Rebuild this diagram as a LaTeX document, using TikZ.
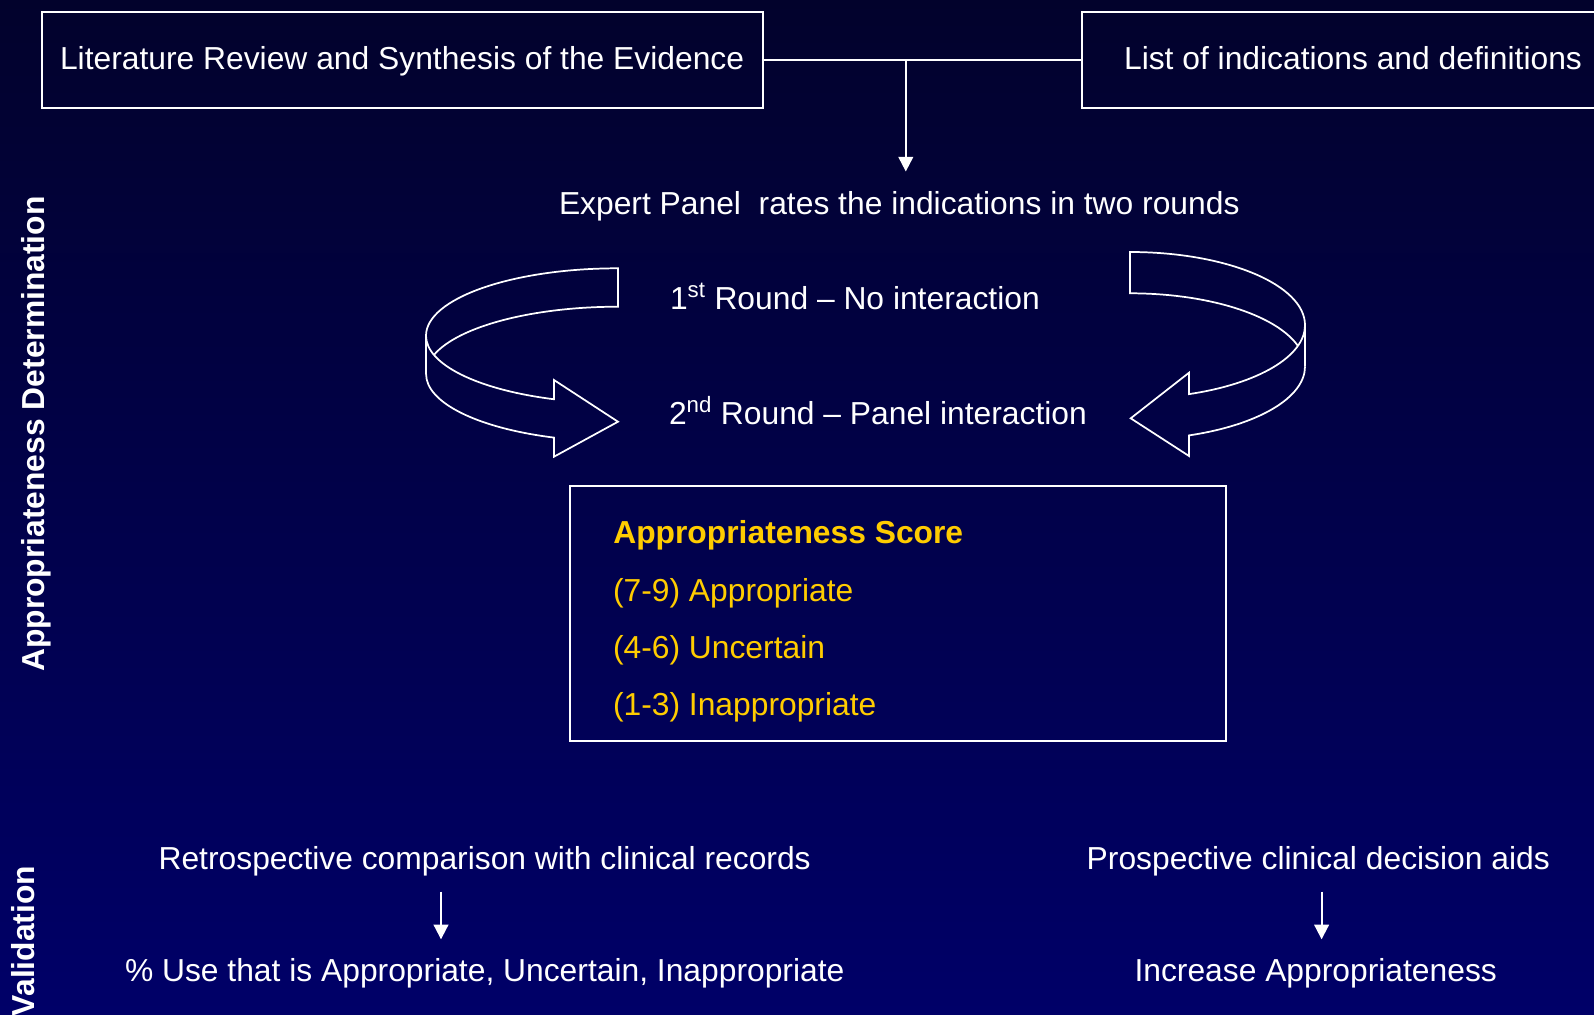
\documentclass[tikz,border=0pt]{standalone}
\usepackage{fontspec}
\setmainfont{Liberation Sans}
\usetikzlibrary{arrows.meta}
\definecolor{bgtop}{RGB}{2,2,44}
\definecolor{bgbot}{RGB}{0,0,104}
\definecolor{gold}{RGB}{255,204,0}
\begin{document}
\begin{tikzpicture}[x=0.75pt,y=-0.75pt,
  every node/.style={inner sep=0pt, outer sep=0pt, text=white,
    font=\fontsize{23.85}{28}\selectfont},
  txt/.style={anchor=base west},
  boxnode/.style={draw=white, line width=1.5pt, text height=17.1pt, text depth=3pt},
  conn/.style={draw=white, line width=1.5pt},
  arr/.style={conn, -{Triangle[length=11pt,width=11pt]}},
  ribbon/.style={draw=white, line width=1.3pt, line join=miter},
  score/.style={anchor=base west, text=gold},
  side/.style={rotate=90, anchor=base, font=\bfseries\fontsize{23.85}{28}\selectfont}
]
\clip (0,0) rectangle (1594,1014);
\shade[top color=bgtop, bottom color=bgbot] (0,0) rectangle (1594,1014);

% top boxes
\node[boxnode, minimum width=540.6pt, minimum height=71.7pt] (lit) at (402.1,60)
  {Literature Review and Synthesis of the Evidence};
\node[boxnode, minimum width=407pt, minimum height=71.7pt] (list) at (1353,60)
  {List of indications and definitions};
\coordinate (split) at (905.8,60);
\coordinate (exptip) at (905.8,171.5);
\draw[conn] (lit.east) -- (list.west);
\draw[arr] (split) -- (exptip);

\node[txt] (expert) at (559,214) {Expert Panel\ \ rates the indications in two rounds};

% rounds
\node[txt] (round1) at (670,309.3) {1\textsuperscript{st} Round – No interaction};
\node[txt] (round2) at (669,424.3) {2\textsuperscript{nd} Round – Panel interaction};

% left curved arrow
\draw[ribbon] (426,374.1) -- (426,335.7)
  arc[start angle=180, end angle=270, x radius=192, y radius=67.4]
  -- (618,306.7)
  arc[start angle=270, end angle=196.55, x radius=192, y radius=67.4];
\draw[ribbon] (426,335.7)
  arc[start angle=180, end angle=109.5, x radius=192, y radius=67.4]
  -- (554,380) -- (618,421.7) -- (554,456.7) -- (554,437.6)
  arc[start angle=109.5, end angle=180, x radius=192, y radius=67.4];

% right curved arrow
\draw[ribbon] (1305,366.5) -- (1305,325.2)
  arc[start angle=0, end angle=-90, x radius=175, y radius=73.2]
  -- (1130,293.3)
  arc[start angle=-90, end angle=-16.4, x radius=175, y radius=73.2];
\draw[ribbon] (1305,325.2)
  arc[start angle=0, end angle=70.3, x radius=175, y radius=73.2]
  -- (1189,372.7) -- (1130.7,418.3) -- (1189,456) -- (1189,435.4)
  arc[start angle=70.3, end angle=0, x radius=175, y radius=73.2];

% score box
\node[draw=white, line width=1.5pt, anchor=north west, minimum width=491.8pt,
  minimum height=191.3pt] (scorebox) at (570.3,486) {};
\node[score, font=\bfseries\fontsize{23.85}{28}\selectfont] (scoretitle) at (613.3,543.3) {Appropriateness Score};
\node[score] (s79) at (613,601.5) {(7-9) Appropriate};
\node[score] (s46) at (613,658.3) {(4-6) Uncertain};
\node[score] (s13) at (613,715.5) {(1-3) Inappropriate};

% side labels
\node[side] (appdet) at (44,434) {Appropriateness Determination};
\node[side] (valid) at (34,941) {Validation};

% validation rows
\node[txt] (retro) at (158.6,869) {Retrospective comparison with clinical records};
\node[txt] (pct) at (125,981) {\% Use that is Appropriate, Uncertain, Inappropriate};
\node[txt] (prosp) at (1086.7,869) {Prospective clinical decision aids};
\node[txt] (incr) at (1134.5,981) {Increase Appropriateness};
\coordinate (retroA) at (441,891.7);
\coordinate (retroB) at (441,939.3);
\coordinate (prospA) at (1321.6,891.7);
\coordinate (prospB) at (1321.6,939.3);
\draw[arr] (retroA) -- (retroB);
\draw[arr] (prospA) -- (prospB);
\end{tikzpicture}
\end{document}
